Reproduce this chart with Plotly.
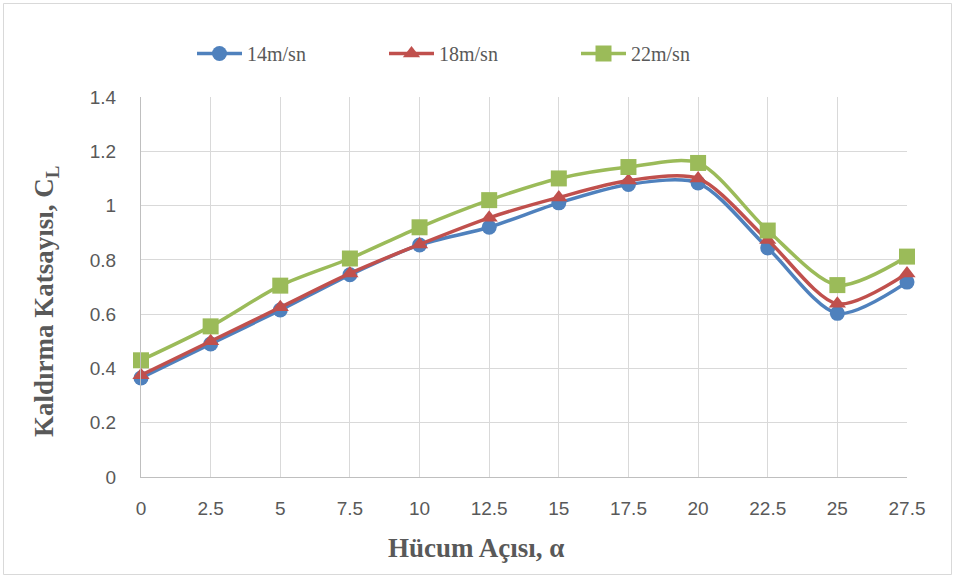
import plotly.graph_objects as go

angles = [0, 2.5, 5, 7.5, 10, 12.5, 15, 17.5, 20, 22.5, 25, 27.5]
cl_14 = [0.365, 0.49, 0.615, 0.745, 0.855, 0.92, 1.01, 1.078, 1.083, 0.844, 0.603, 0.718]
cl_18 = [0.375, 0.50, 0.625, 0.75, 0.857, 0.955, 1.03, 1.092, 1.10, 0.873, 0.638, 0.75]
cl_22 = [0.43, 0.555, 0.705, 0.805, 0.92, 1.02, 1.10, 1.142, 1.157, 0.908, 0.707, 0.812]
series_names = ["14m/sn", "18m/sn", "22m/sn"]
colors = ["#4F81BD", "#C0504D", "#9BBB59"]
symbols = ["circle", "triangle-up", "square"]
msizes = [15, 15, 16]
x_ticks = [0, 2.5, 5, 7.5, 10, 12.5, 15, 17.5, 20, 22.5, 25, 27.5]
y_ticks = [0, 0.2, 0.4, 0.6, 0.8, 1, 1.2, 1.4]

W, H = 955, 578
ml, mr, mt, mb = 141, 48, 97, 101
pw, ph = W - ml - mr, H - mt - mb

fig = go.Figure()
for name, ys, c, s, ms in zip(series_names, [cl_14, cl_18, cl_22], colors, symbols, msizes):
    fig.add_trace(go.Scatter(
        x=angles, y=ys, name=name, mode="lines+markers",
        line=dict(color=c, width=3.5, shape="spline", smoothing=0.8),
        marker=dict(symbol=s, size=ms, color=c),
        cliponaxis=False,
    ))

def px_x(p):
    return (p - ml) / pw

def px_y(p):
    return (H - mb - p) / ph

tickfont = dict(family="Liberation Sans Narrow, Arial Narrow, sans-serif", size=19, color="#595959")
titlefont = dict(family="Liberation Serif, Times New Roman, serif", size=27, color="#595959", weight="bold")

fig.update_layout(
    width=W, height=H,
    margin=dict(l=ml, r=mr, t=mt, b=mb),
    paper_bgcolor="white", plot_bgcolor="white",
    showlegend=True,
    legend=dict(orientation="h", x=px_x(192), y=px_y(34), xanchor="left", yanchor="top",
                font=dict(family="Liberation Serif, Times New Roman, serif", size=20, color="#595959"),
                entrywidth=132, entrywidthmode="pixels", itemwidth=45,
                bgcolor="rgba(0,0,0,0)"),
    xaxis=dict(range=[0, 27.5], tickvals=x_ticks, ticktext=[str(v) for v in x_ticks],
               showgrid=True, gridcolor="#D9D9D9", gridwidth=1,
               showline=True, linecolor="#BFBFBF", linewidth=1, zeroline=False,
               ticks="", ticklabelstandoff=14, tickfont=tickfont),
    yaxis=dict(range=[0, 1.4], tickvals=y_ticks, ticktext=[str(v) for v in y_ticks],
               showgrid=True, gridcolor="#D9D9D9", gridwidth=1,
               showline=True, linecolor="#BFBFBF", linewidth=1, zeroline=False,
               ticks="outside", ticklen=20, tickcolor="rgba(0,0,0,0)", tickfont=tickfont),
    annotations=[
        dict(text="Hücum Açısı, α", xref="paper", yref="paper", x=px_x(476), y=px_y(548),
             showarrow=False, xanchor="center", yanchor="middle", font=titlefont),
        dict(text="Kaldırma Katsayısı, C<sub>L</sub>", xref="paper", yref="paper", x=px_x(46), y=px_y(302),
             showarrow=False, xanchor="center", yanchor="middle", textangle=-90, font=titlefont),
    ],
    shapes=[
        dict(type="rect", xref="paper", yref="paper", x0=px_x(3.5), x1=px_x(951.5), y0=px_y(574.5), y1=px_y(3.5),
             line=dict(color="#D9D9D9", width=1), fillcolor="rgba(0,0,0,0)", layer="below"),
    ],
)

fig.write_html("out.html")
